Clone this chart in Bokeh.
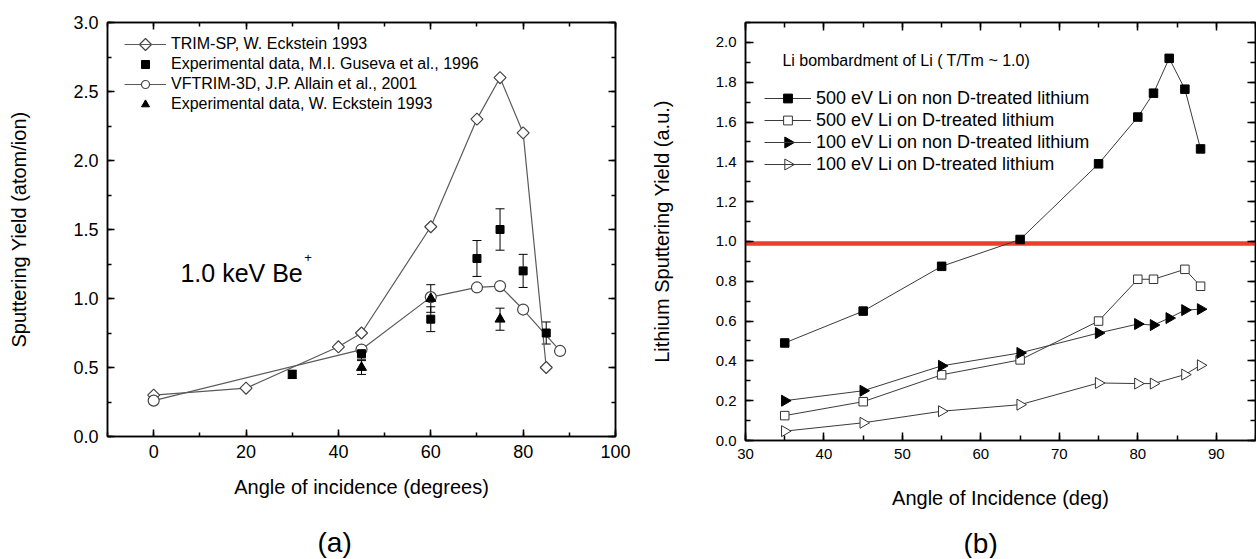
import math
from bokeh.plotting import figure
from bokeh.layouts import row
from bokeh.models import (LinearAxis, SingleIntervalTicker, FixedTicker, Range1d, Legend, LegendItem,
                          Label, Span, Whisker, ColumnDataSource, CustomJSTickFormatter,
                          NumeralTickFormatter, TeeHead, Title)
from bokeh.embed import file_html
from bokeh.resources import INLINE

FONT = "Liberation Sans"

# ---------------- panel (a) data ----------------
a_trim_x = [0, 20, 40, 45, 60, 70, 75, 80, 85]
a_trim_y = [0.30, 0.35, 0.65, 0.75, 1.52, 2.30, 2.60, 2.20, 0.50]
a_vf_x = [0, 45, 60, 70, 75, 80, 88]
a_vf_y = [0.26, 0.63, 1.01, 1.08, 1.09, 0.92, 0.62]
a_gus_x = [30, 45, 60, 70, 75, 80, 85]
a_gus_y = [0.45, 0.60, 0.85, 1.29, 1.50, 1.20, 0.75]
a_gus_err = [0.03, 0.04, 0.09, 0.13, 0.15, 0.12, 0.08]
a_eck_x = [45, 60, 75]
a_eck_y = [0.50, 1.00, 0.85]
a_eck_err = [0.05, 0.10, 0.08]
a_labels = ["TRIM-SP, W. Eckstein 1993",
            "Experimental data, M.I. Guseva et al., 1996",
            "VFTRIM-3D, J.P. Allain et al., 2001",
            "Experimental data, W. Eckstein 1993"]

# ---------------- panel (b) data ----------------
b_x500 = [35, 45, 55, 65, 75, 80, 82, 84, 86, 88]
b_y500_non = [0.49, 0.65, 0.875, 1.01, 1.39, 1.625, 1.745, 1.92, 1.765, 1.465]
b_x500d = [35, 45, 55, 65, 75, 80, 82, 86, 88]
b_y500_d = [0.125, 0.195, 0.33, 0.405, 0.60, 0.81, 0.81, 0.86, 0.775]
b_x100 = [35, 45, 55, 65, 75, 80, 82, 84, 86, 88]
b_y100_non = [0.20, 0.25, 0.375, 0.44, 0.54, 0.585, 0.58, 0.615, 0.655, 0.66]
b_x100d = [35, 45, 55, 65, 75, 80, 82, 86, 88]
b_y100_d = [0.047, 0.089, 0.147, 0.18, 0.289, 0.286, 0.286, 0.331, 0.378]
b_threshold = 0.99
b_labels = ["500 eV Li on non D-treated lithium",
            "500 eV Li on D-treated lithium",
            "100 eV Li on non D-treated lithium",
            "100 eV Li on D-treated lithium"]

# frame geometry (pixels)
FW1, FH1 = 508, 414
FW2, FH2 = 510, 418
# legend geometry (pixels, from frame bottom-left)
L1_X, L1_Y, L1_ROW, L1_GW = 17, 322, 20, 42
L2_X, L2_Y, L2_ROW, L2_GW = 19, 265, 22, 47


def style_axis(ax, size, major_in=7, minor_in=4):
    ax.axis_line_width = 1.5
    ax.axis_line_color = "black"
    ax.major_tick_line_width = 1.5
    ax.minor_tick_line_width = 1.5
    ax.major_tick_line_color = "black"
    ax.minor_tick_line_color = "black"
    ax.major_tick_in = major_in
    ax.major_tick_out = 0
    ax.minor_tick_in = minor_in
    ax.minor_tick_out = 0
    ax.major_label_text_font = FONT
    ax.major_label_text_font_size = size
    ax.major_label_text_color = "black"
    ax.axis_label_text_font = FONT
    ax.axis_label_text_font_style = "normal"
    ax.axis_label_text_font_size = "20px"
    ax.axis_label_text_color = "black"


def mirror(p, xint, yint, major_in, minor_in):
    top = LinearAxis(ticker=SingleIntervalTicker(interval=xint, num_minor_ticks=2),
                     formatter=CustomJSTickFormatter(code="return ''"),
                     major_label_standoff=0)
    right = LinearAxis(ticker=SingleIntervalTicker(interval=yint, num_minor_ticks=2),
                       formatter=CustomJSTickFormatter(code="return ''"),
                       major_label_standoff=0)
    style_axis(top, "10px", major_in, minor_in)
    style_axis(right, "10px", major_in, minor_in)
    p.add_layout(top, "above")
    p.add_layout(right, "right")


def spacer(p, px, at):
    # an invisible axis whose (hidden) outer tick length reserves vertical space
    ax = LinearAxis(ticker=FixedTicker(ticks=[at], minor_ticks=[]),
                    formatter=CustomJSTickFormatter(code="return ''"),
                    axis_line_color=None, major_tick_line_color=None, minor_tick_line_color=None,
                    major_tick_out=px, major_tick_in=0, minor_tick_out=0, minor_tick_in=0,
                    major_label_standoff=0)
    p.add_layout(ax, "below")


def legend_row_center(lx, ly, row_h, gw, n, i):
    return lx + gw / 2.0, ly + n * row_h - (i + 0.5) * row_h


# ================= panel (a) =================
p1 = figure(frame_width=FW1, frame_height=FH1, x_range=Range1d(-10, 100), y_range=Range1d(0, 3),
            output_backend="svg", toolbar_location=None,
            min_border_left=107, min_border_right=20, min_border_top=22, min_border_bottom=0)
p1.extra_x_ranges = {"lx": Range1d(0, FW1)}
p1.extra_y_ranges = {"ly": Range1d(0, FH1)}
p1.grid.visible = False
p1.outline_line_color = "black"
p1.outline_line_width = 1.5
p1.xaxis.ticker = SingleIntervalTicker(interval=20, num_minor_ticks=2)
p1.yaxis.ticker = SingleIntervalTicker(interval=0.5, num_minor_ticks=2)
p1.yaxis.formatter = NumeralTickFormatter(format="0.0")
style_axis(p1.xaxis[0], "18px")
style_axis(p1.yaxis[0], "18px")
p1.xaxis.major_label_standoff = 8
p1.yaxis.major_label_standoff = 9
p1.xaxis.axis_label = "Angle of incidence (degrees)"
p1.xaxis.axis_label_standoff = 15
p1.yaxis.axis_label = "Sputtering Yield (atom/ion)"
p1.yaxis.axis_label_standoff = 40
mirror(p1, 20, 0.5, 7, 4)

LC = "#5a5a5a"
gus_src = ColumnDataSource(dict(x=a_gus_x, lo=[v - e for v, e in zip(a_gus_y, a_gus_err)],
                                hi=[v + e for v, e in zip(a_gus_y, a_gus_err)]))
eck_src = ColumnDataSource(dict(x=a_eck_x, lo=[v - e for v, e in zip(a_eck_y, a_eck_err)],
                                hi=[v + e for v, e in zip(a_eck_y, a_eck_err)]))
for src in (gus_src, eck_src):
    w = Whisker(source=src, base="x", upper="hi", lower="lo", line_color="black", line_width=1,
                upper_head=TeeHead(size=9, line_color="black", line_width=1),
                lower_head=TeeHead(size=9, line_color="black", line_width=1))
    p1.add_layout(w)

r_trim_l = p1.line(a_trim_x, a_trim_y, line_color=LC, line_width=1.2)
r_trim_m = p1.scatter(a_trim_x, a_trim_y, marker="square", angle=math.pi / 4, size=8.5,
                      fill_color="white", line_color="#444444", line_width=1.2)
r_vf_l = p1.line(a_vf_x, a_vf_y, line_color=LC, line_width=1.2)
r_vf_m = p1.scatter(a_vf_x, a_vf_y, marker="circle", size=11,
                    fill_color="white", line_color="#444444", line_width=1.2)
r_gus = p1.scatter(a_gus_x, a_gus_y, marker="square", size=8, fill_color="black", line_color="black")
r_eck = p1.scatter(a_eck_x, a_eck_y, marker="triangle", size=10, fill_color="black", line_color="black")

leg1 = Legend(items=[LegendItem(label=a_labels[0], renderers=[r_trim_l]),
                     LegendItem(label=a_labels[1], renderers=[r_gus]),
                     LegendItem(label=a_labels[2], renderers=[r_vf_l, r_vf_m]),
                     LegendItem(label=a_labels[3], renderers=[r_eck])],
              location=(L1_X, L1_Y), margin=0, padding=0, spacing=0,
              glyph_width=L1_GW, glyph_height=L1_ROW, label_height=L1_ROW, label_standoff=5,
              label_text_font=FONT, label_text_font_size="16px", label_text_color="black",
              border_line_color=None, background_fill_alpha=0)
p1.add_layout(leg1)
# rotated (diamond) key for the TRIM-SP legend entry
kx, ky = legend_row_center(L1_X, L1_Y, L1_ROW, L1_GW, 4, 0)
p1.scatter([kx], [ky], marker="square", angle=math.pi / 4, size=8.5, fill_color="white",
           line_color="#444444", line_width=1.2, x_range_name="lx", y_range_name="ly", level="overlay")

p1.add_layout(Label(x=5.8, y=1.183, text="1.0 keV Be", text_font=FONT, text_font_size="25px",
                    text_baseline="alphabetic", text_align="left", text_color="black"))
p1.add_layout(Label(x=32.6, y=1.30, text="+", text_font=FONT, text_font_size="13px",
                    text_baseline="middle", text_align="left", text_color="black"))
spacer(p1, 23, 50)
p1.add_layout(Title(text="(a)", align="left", offset=210, text_font=FONT, text_font_size="28px",
                    text_font_style="normal", text_color="black", standoff=2), "below")

# ================= panel (b) =================
p2 = figure(frame_width=FW2, frame_height=FH2, x_range=Range1d(30, 95), y_range=Range1d(0, 2.1),
            output_backend="svg", toolbar_location=None,
            min_border_left=110, min_border_right=1, min_border_top=21, min_border_bottom=0)
p2.extra_x_ranges = {"lx": Range1d(0, FW2)}
p2.extra_y_ranges = {"ly": Range1d(0, FH2)}
p2.grid.visible = False
p2.outline_line_color = "black"
p2.outline_line_width = 1.5
p2.xaxis.ticker = SingleIntervalTicker(interval=10, num_minor_ticks=2)
p2.yaxis.ticker = SingleIntervalTicker(interval=0.2, num_minor_ticks=2)
p2.yaxis.formatter = NumeralTickFormatter(format="0.0")
style_axis(p2.xaxis[0], "15px", 8, 5)
style_axis(p2.yaxis[0], "15px", 8, 5)
p2.xaxis.major_label_standoff = 8
p2.yaxis.major_label_standoff = 9
p2.xaxis.axis_label = "Angle of Incidence (deg)"
p2.xaxis.axis_label_standoff = 25
p2.yaxis.axis_label = "Lithium Sputtering Yield (a.u.)"
p2.yaxis.axis_label_standoff = 40
mirror(p2, 10, 0.2, 8, 5)

p2.add_layout(Span(location=b_threshold, dimension="width", line_color="#ee3d2a",
                   line_width=4.5, level="underlay"))

BC = "#3a3a3a"
RIGHT = -math.pi / 2
l1 = p2.line(b_x500, b_y500_non, line_color=BC, line_width=1)
m1 = p2.scatter(b_x500, b_y500_non, marker="square", size=8.5, fill_color="black", line_color="black")
l2 = p2.line(b_x500d, b_y500_d, line_color=BC, line_width=1)
m2 = p2.scatter(b_x500d, b_y500_d, marker="square", size=8.5, fill_color="white", line_color="#333333")
l3 = p2.line(b_x100, b_y100_non, line_color=BC, line_width=1)
m3 = p2.scatter(b_x100, b_y100_non, marker="triangle", angle=RIGHT, size=11,
                fill_color="black", line_color="black")
l4 = p2.line(b_x100d, b_y100_d, line_color=BC, line_width=1)
m4 = p2.scatter(b_x100d, b_y100_d, marker="triangle", angle=RIGHT, size=11,
                fill_color="white", line_color="#333333")

leg2 = Legend(items=[LegendItem(label=b_labels[0], renderers=[l1, m1]),
                     LegendItem(label=b_labels[1], renderers=[l2, m2]),
                     LegendItem(label=b_labels[2], renderers=[l3]),
                     LegendItem(label=b_labels[3], renderers=[l4])],
              location=(L2_X, L2_Y), margin=0, padding=0, spacing=0,
              glyph_width=L2_GW, glyph_height=L2_ROW, label_height=L2_ROW, label_standoff=5,
              label_text_font=FONT, label_text_font_size="18px", label_text_color="black",
              border_line_color=None, background_fill_alpha=0)
p2.add_layout(leg2)
# right-pointing triangle keys for the 100 eV legend entries
for i, fill in ((2, "black"), (3, "white")):
    kx, ky = legend_row_center(L2_X, L2_Y, L2_ROW, L2_GW, 4, i)
    p2.scatter([kx], [ky], marker="triangle", angle=RIGHT, size=11, fill_color=fill,
               line_color="black" if fill == "black" else "#333333",
               x_range_name="lx", y_range_name="ly", level="overlay")

p2.add_layout(Label(x=34.7, y=1.908, text="Li bombardment of Li  ( T/Tm ~ 1.0)", text_font=FONT,
                    text_font_size="16px", text_baseline="alphabetic", text_align="left",
                    text_color="black"))
spacer(p2, 13, 60)
p2.add_layout(Title(text="(b)", align="left", offset=218, text_font=FONT, text_font_size="28px",
                    text_font_style="normal", text_color="black", standoff=2), "below")

layout = row(p1, p2, spacing=0)
open("out.html", "w").write(file_html(layout, INLINE))
